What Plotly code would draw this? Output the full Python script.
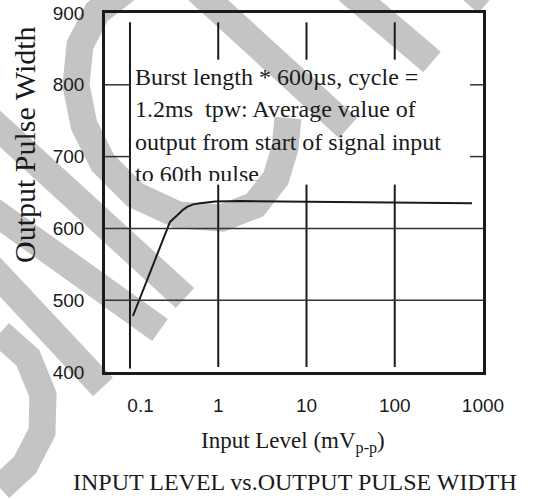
import plotly.graph_objects as go

# ---------------- data ----------------
x_level = [0.108, 0.284, 0.341, 0.39, 0.443, 0.52, 0.622, 0.75, 0.92, 1.77, 751]
pulse_width = [478, 609, 618, 625, 630, 633.5, 635, 636.5, 637.5, 638, 635]

x_tick_vals = [0.1, 1, 10, 100, 1000]
x_tick_text = ["\u2007\u20070.1", "1", "10", "100", "1000"]
y_tick_vals = [400, 500, 600, 700, 800, 900]

grid_x_full = [0.1]
grid_x_split = [1, 10, 100]
grid_y_full = [500, 600]
grid_y_split = [700, 800]

note_lines = [
    "Burst length * 600\u00b5s, cycle =",
    "1.2ms \u00a0tpw: Average value of",
    "output from start of signal input",
    "to 60th pulse",
]
x_title = "Input Level (mV<sub>p-p</sub>)"
y_title = "Output Pulse Width"
chart_title = "INPUT LEVEL vs.OUTPUT PULSE WIDTH"

# ---------------- layout geometry (pixels) ----------------
W, H = 545, 499
L, R, T, B = 105, 483, 13, 372
PW, PH = R - L, B - T


def px(xp, yp):
    return (xp - L) / PW, (B - yp) / PH


SERIF = "Liberation Serif, Times New Roman, serif"
SANS = "Liberation Sans, Arial, sans-serif"
INK = "#1a1a1a"
WM = "#c4c4c4"

fig = go.Figure()

fig.add_trace(go.Scatter(
    x=x_level, y=pulse_width, mode="lines",
    line=dict(color=INK, width=2), xaxis="x", yaxis="y",
    showlegend=False, hoverinfo="skip", cliponaxis=False,
))

# note text in an overlay subplot whose bottom edge clips the last line
clip_px = 181
note_font = 24
baselines_px = [87, 119.5, 152, 184.5]
fig.add_trace(go.Scatter(
    x=[(135 - L) / PW] * len(note_lines),
    y=[(clip_px - (b - 0.35 * note_font)) / (clip_px - T) for b in baselines_px],
    mode="text", text=note_lines, textposition="middle right",
    textfont=dict(family=SERIF, size=note_font, color=INK),
    xaxis="x2", yaxis="y2", cliponaxis=True, showlegend=False, hoverinfo="skip",
))

shapes = []

# watermark (paper coordinates, drawn below everything)
wm_paths = [
    [(128, -12), (97, 12), (80, 45), (76, 85), (84, 125), (103, 163), (135, 195),
     (178, 215), (222, 218), (255, 205), (276, 178), (285, 148), (288, 118)],
    [(-15, 115), (185, 298)],
    [(-15, 205), (160, 330)],
    [(-15, 261), (103, 387)],
    [(0, 333), (28, 358), (43, 395), (42, 432), (25, 465), (0, 488)],
    [(195, -12), (348, 128)],
    [(345, -12), (432, 62)],
    [(455, -25), (487, 3)],
]
for pts in wm_paths:
    d = ""
    for i, (a, b) in enumerate(pts):
        xp, yp = px(a, b)
        d += ("M" if i == 0 else "L") + f"{xp:.4f},{yp:.4f}"
    shapes.append(dict(type="path", path=d, xref="paper", yref="paper",
                       line=dict(color=WM, width=27), layer="below"))

# grid segments
for gx in grid_x_full:
    shapes.append(dict(type="line", xref="x", yref="y", x0=gx, x1=gx, y0=405, y1=887,
                       line=dict(color=INK, width=2)))
for gx in grid_x_split:
    shapes.append(dict(type="line", xref="x", yref="y", x0=gx, x1=gx, y0=407, y1=661,
                       line=dict(color=INK, width=2)))
    shapes.append(dict(type="line", xref="x", yref="y", x0=gx, x1=gx, y0=835, y1=887,
                       line=dict(color=INK, width=2)))
for gy in grid_y_full:
    shapes.append(dict(type="line", xref="paper", yref="y", x0=0, x1=1, y0=gy, y1=gy,
                       line=dict(color="#333", width=1.5)))
for gy in grid_y_split:
    shapes.append(dict(type="line", xref="paper", yref="y", x0=0, x1=(130 - L) / PW,
                       y0=gy, y1=gy, line=dict(color="#333", width=1.5)))
    shapes.append(dict(type="line", xref="paper", yref="y", x0=(470 - L) / PW, x1=1,
                       y0=gy, y1=gy, line=dict(color="#333", width=1.5)))

annotations = [
    dict(text=x_title, xref="paper", yref="paper", x=px(293, 0)[0], y=px(0, 442)[1],
         showarrow=False, xanchor="center", yanchor="middle",
         font=dict(family=SERIF, size=23, color=INK)),
    dict(text=y_title, xref="paper", yref="paper", x=px(24, 0)[0], y=px(0, 145)[1],
         showarrow=False, xanchor="center", yanchor="middle", textangle=-90,
         font=dict(family=SERIF, size=30, color=INK)),
    dict(text=chart_title, xref="paper", yref="paper", x=px(295, 0)[0], y=px(0, 482)[1],
         showarrow=False, xanchor="center", yanchor="middle",
         font=dict(family=SERIF, size=24, color=INK)),
]

fig.update_layout(
    width=W, height=H,
    margin=dict(l=L, r=W - R, t=T, b=H - B, pad=0, autoexpand=False),
    paper_bgcolor="white", plot_bgcolor="rgba(0,0,0,0)",
    showlegend=False,
    xaxis=dict(type="log", range=[-1.283, 3], showgrid=False, zeroline=False,
               showline=True, mirror=True, linewidth=2.5, linecolor=INK,
               tickvals=x_tick_vals, ticktext=x_tick_text, ticks="", automargin=False,
               tickfont=dict(family=SANS, size=19, color=INK), ticklabelstandoff=14),
    yaxis=dict(range=[400, 900], showgrid=False, zeroline=False,
               showline=True, mirror=True, linewidth=2.5, linecolor=INK,
               tickvals=y_tick_vals, ticks="", automargin=False,
               tickfont=dict(family=SANS, size=19, color=INK), ticklabelstandoff=14),
    xaxis2=dict(domain=[0, 1], range=[0, 1], anchor="y2", visible=False,
                fixedrange=True, automargin=False),
    yaxis2=dict(domain=[(B - clip_px) / PH, 1], range=[0, 1], anchor="x2",
                visible=False, fixedrange=True, automargin=False),
    shapes=shapes,
    annotations=annotations,
)

fig.write_html("out.html", config={"displayModeBar": False},
               post_script="document.body.style.margin='0px';")
